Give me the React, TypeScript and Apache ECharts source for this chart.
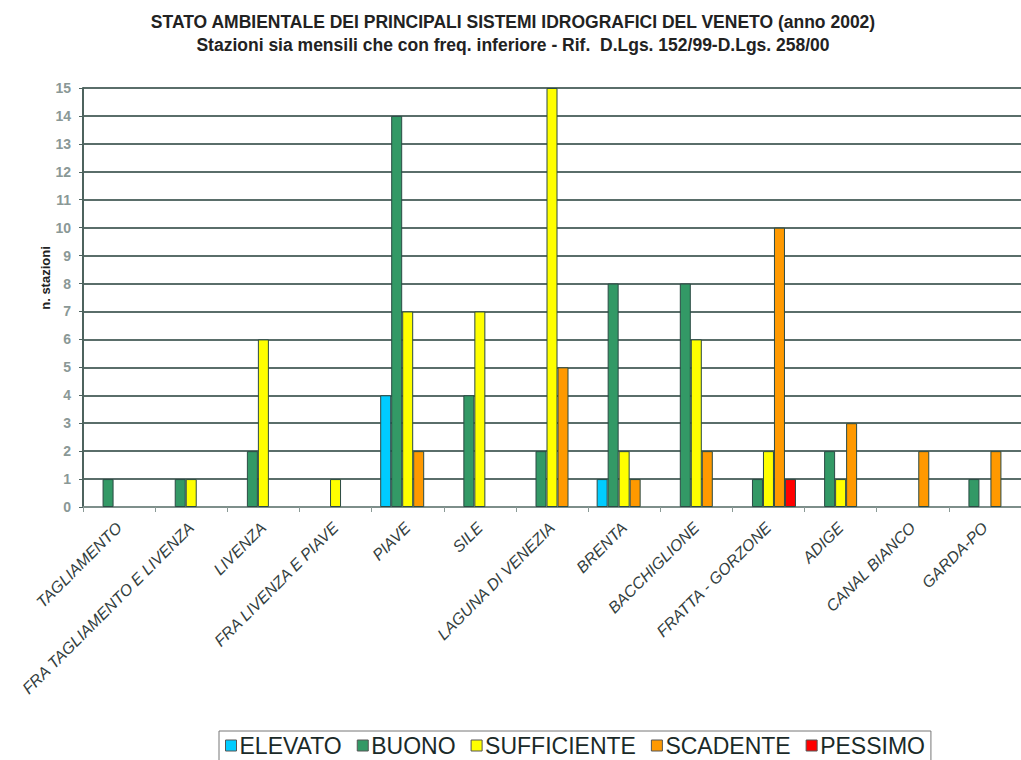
import React, { useEffect, useRef } from "react";
import * as echarts from "echarts";

const categories = [
  "TAGLIAMENTO",
  "FRA TAGLIAMENTO E LIVENZA",
  "LIVENZA",
  "FRA LIVENZA E PIAVE",
  "PIAVE",
  "SILE",
  "LAGUNA DI VENEZIA",
  "BRENTA",
  "BACCHIGLIONE",
  "FRATTA - GORZONE",
  "ADIGE",
  "CANAL BIANCO",
  "GARDA-PO",
];

const elevato = [null, null, null, null, 4, null, null, 1, null, null, null, null, null];
const buono = [1, 1, 2, null, 14, 4, 2, 8, 8, 1, 2, null, 1];
const sufficiente = [null, 1, 6, 1, 7, 7, 15, 2, 6, 2, 1, null, null];
const scadente = [null, null, null, null, 2, null, 5, 1, 2, 10, 3, 2, 2];
const pessimo = [null, null, null, null, null, null, null, null, null, 1, null, null, null];

const seriesDefs = [
  { name: "ELEVATO", data: elevato, color: "#00ccff" },
  { name: "BUONO", data: buono, color: "#339966" },
  { name: "SUFFICIENTE", data: sufficiente, color: "#ffff00" },
  { name: "SCADENTE", data: scadente, color: "#ff9900" },
  { name: "PESSIMO", data: pessimo, color: "#ff0000" },
];

export default function App() {
  const ref = useRef<HTMLDivElement>(null);
  useEffect(() => {
    if (!ref.current) return;
    const chart = echarts.init(ref.current, null, { renderer: "svg" });
    chart.setOption({
      animation: false,
      backgroundColor: "#ffffff",
      textStyle: { fontFamily: "Liberation Sans, Arial, sans-serif" },
      title: {
        text: "STATO AMBIENTALE DEI PRINCIPALI SISTEMI IDROGRAFICI DEL VENETO (anno 2002)\nStazioni sia mensili che con freq. inferiore - Rif.  D.Lgs. 152/99-D.Lgs. 258/00",
        left: 508,
        textAlign: "center",
        top: 5,
        textStyle: {
          fontSize: 17.5,
          fontWeight: "bold",
          color: "#222222",
          lineHeight: 23,
          fontFamily: "Liberation Sans, Arial, sans-serif",
        },
      },
      graphic: [
        {
          type: "text",
          x: 45,
          y: 278,
          rotation: Math.PI / 2,
          style: {
            text: "n. stazioni",
            fontSize: 13,
            fontWeight: "bold",
            fill: "#222222",
            align: "center",
            verticalAlign: "middle",
            fontFamily: "Liberation Sans, Arial, sans-serif",
          },
        },
      ],
      legend: {
        left: 219,
        top: 731,
        data: seriesDefs.map((s) => s.name),
        icon: "rect",
        itemWidth: 11,
        itemHeight: 11,
        itemGap: 15,
        padding: [3, 6, 6, 6],
        borderColor: "#777777",
        borderWidth: 1,
        borderRadius: 0,
        itemStyle: { borderColor: "#555555", borderWidth: 1 },
        textStyle: {
          fontSize: 23,
          color: "#1a2a28",
          padding: [0, 0, 0, -2],
        },
      },
      grid: {
        left: 83,
        top: 88,
        width: 949,
        height: 419,
        containLabel: false,
      },
      xAxis: {
        type: "category",
        data: categories,
        axisLine: { lineStyle: { color: "#8a9a96", width: 1.5 } },
        axisTick: { show: true, lineStyle: { color: "#8a9a96" }, length: 5 },
        axisLabel: {
          rotate: 45,
          interval: 0,
          fontSize: 16,
          fontStyle: "italic",
          color: "#33403e",
          margin: 18,
        },
      },
      yAxis: {
        type: "value",
        min: 0,
        max: 15,
        interval: 1,
        axisLine: { show: true, lineStyle: { color: "#4d635e", width: 2 } },
        axisTick: { show: true, length: 4, lineStyle: { color: "#4d635e" } },
        axisLabel: { fontSize: 14, fontWeight: "bold", color: "#8a9896", margin: 12 },
        splitLine: { lineStyle: { color: "#5a6e6a", width: 2 } },
      },
      series: seriesDefs.map((s) => ({
        name: s.name,
        type: "bar",
        data: s.data,
        barWidth: 11,
        barGap: "0%",
        itemStyle: { color: s.color, borderColor: "#2b4a44", borderWidth: 1 },
      })),
    });
    return () => chart.dispose();
  }, []);
  return <div ref={ref} style={{ width: 1021, height: 760, position: "absolute", left: 0, top: 0 }} />;
}
